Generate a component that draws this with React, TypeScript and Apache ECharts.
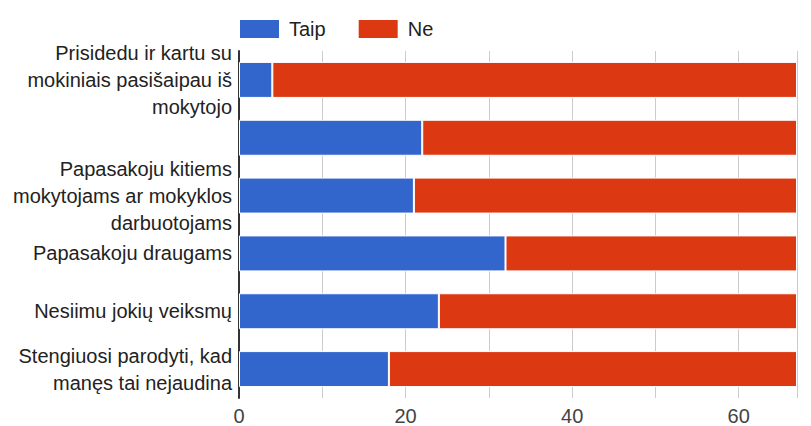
import React, { useEffect, useRef } from "react";
import * as echarts from "echarts";

const categories: string[] = [
  "Prisidedu ir kartu su\nmokiniais pasišaipau iš\nmokytojo",
  "",
  "Papasakoju kitiems\nmokytojams ar mokyklos\ndarbuotojams",
  "Papasakoju draugams",
  "Nesiimu jokių veiksmų",
  "Stengiuosi parodyti, kad\nmanęs tai nejaudina",
];
const taipValues: number[] = [4, 22, 21, 32, 24, 18];
const neValues: number[] = [63, 45, 46, 35, 43, 49];
const seriesNames: string[] = ["Taip", "Ne"];
const axisMax = 67;

const FONT = "Arial, 'Liberation Sans', sans-serif";

export default function App() {
  const ref = useRef<HTMLDivElement>(null);
  useEffect(() => {
    if (!ref.current) return;
    const chart = echarts.init(ref.current, undefined, { renderer: "svg" });
    chart.setOption({
      animation: false,
      backgroundColor: "#ffffff",
      color: ["#3366CC", "#DC3912"],
      legend: {
        left: 238,
        top: 18,
        padding: 0,
        itemWidth: 41,
        itemHeight: 20,
        itemGap: 31,
        icon: "rect",
        data: seriesNames,
        textStyle: {
          fontFamily: FONT,
          fontSize: 20,
          color: "#222222",
          padding: [0, 0, 0, 4],
        },
      },
      grid: { left: 239, top: 51, right: 14, bottom: 24, containLabel: false },
      xAxis: {
        type: "value",
        min: 0,
        max: axisMax,
        interval: 10,
        axisLine: { show: false },
        axisTick: { show: false },
        splitLine: { show: true, lineStyle: { color: "#cccccc", width: 1 } },
        axisLabel: {
          showMaxLabel: false,
          fontFamily: FONT,
          fontSize: 20,
          color: "#444444",
          margin: 8,
          formatter: (v: number) => (v % 20 === 0 ? String(v) : ""),
        },
      },
      yAxis: {
        type: "category",
        inverse: true,
        data: categories,
        axisLine: { show: true, lineStyle: { color: "#333333", width: 2 } },
        axisTick: { show: false },
        splitLine: { show: false },
        axisLabel: {
          fontFamily: FONT,
          fontSize: 20,
          color: "#222222",
          margin: 7,
          lineHeight: 27,
          align: "right",
        },
      },
      series: [
        {
          name: seriesNames[0],
          type: "bar",
          stack: "total",
          barWidth: 36,
          data: taipValues,
          itemStyle: { borderColor: "#ffffff", borderWidth: 1 },
        },
        {
          name: seriesNames[1],
          type: "bar",
          stack: "total",
          barWidth: 36,
          data: neValues,
          itemStyle: { borderColor: "#ffffff", borderWidth: 1 },
        },
      ],
    });
    return () => chart.dispose();
  }, []);
  return (
    <div
      ref={ref}
      style={{ position: "fixed", left: 0, top: 0, width: 811, height: 426 }}
    />
  );
}
